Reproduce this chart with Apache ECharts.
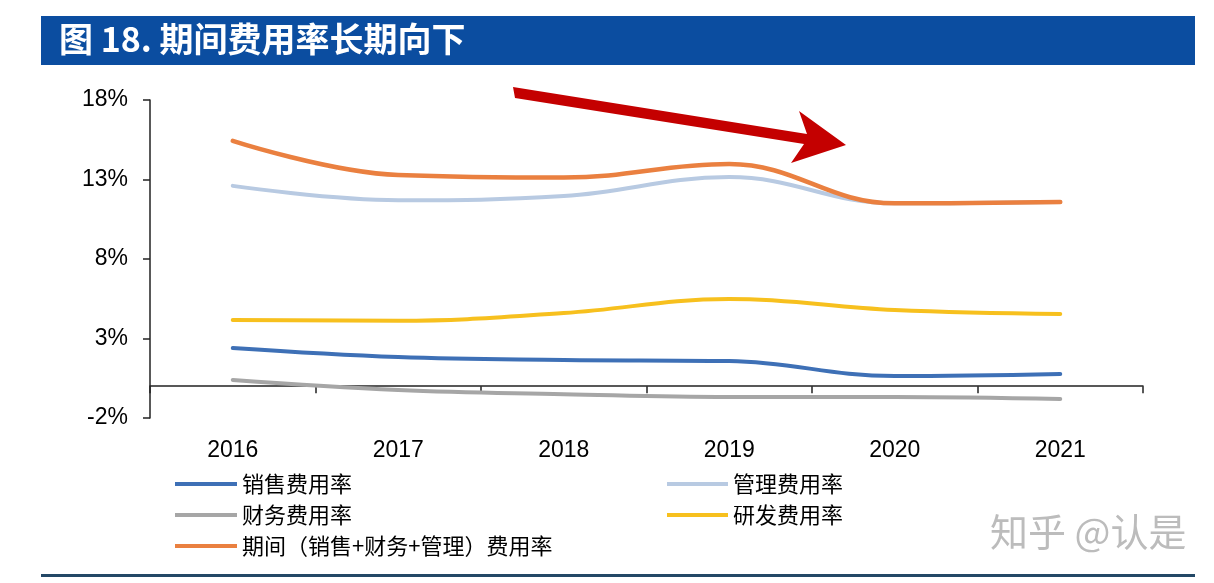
<!DOCTYPE html>
<html>
<head>
<meta charset="utf-8">
<script src="https://cdn.jsdelivr.net/npm/echarts@6/dist/echarts.min.js"></script>
<style>
html,body{margin:0;padding:0;background:#fff;}
#chart{width:1214px;height:583px;}
</style>
</head>
<body>
<div id="chart"></div>
<script>
// ---- data ----
var years = ['2016', '2017', '2018', '2019', '2020', '2021'];
var salesRate = [2.40, 1.83, 1.65, 1.58, 0.64, 0.77];
var mgmtRate = [12.60, 11.70, 11.96, 13.15, 11.50, 11.58];
var finRate = [0.39, -0.24, -0.50, -0.68, -0.68, -0.81];
var rdRate = [4.16, 4.12, 4.60, 5.48, 4.79, 4.54];
var periodRate = [15.43, 13.28, 13.12, 13.97, 11.50, 11.58];
var yTicks = [-2, 3, 8, 13, 18];

var names = {
  sales: '销售费用率',
  mgmt: '管理费用率',
  fin: '财务费用率',
  rd: '研发费用率',
  period: '期间（销售+财务+管理）费用率'
};
var titleText = '图 18. 期间费用率长期向下';
var watermark = '知乎 @认是';

var cjk = '"Noto Sans CJK SC", "Noto Sans", sans-serif';
var latin = 'Arial, "Liberation Sans", sans-serif';

function lineSeries(name, data, color, z, w) {
  return {
    name: name, type: 'line', data: data, smooth: 0.4,
    symbol: 'none', showSymbol: false, z: z,
    lineStyle: { color: color, width: w, cap: 'round' },
    itemStyle: { color: color }
  };
}

var chart = echarts.init(document.getElementById('chart'), null, { renderer: 'canvas' });
var legendText = { fontSize: 22, color: '#000', fontFamily: cjk };
var option = {
  animation: false,
  backgroundColor: '#ffffff',
  grid: { left: 150, right: 71, top: 100, bottom: 165, containLabel: false },
  xAxis: {
    type: 'category', data: years, boundaryGap: true,
    axisLine: { onZero: true, lineStyle: { color: '#222', width: 1.5 } },
    axisTick: { show: true, length: 7, lineStyle: { color: '#222', width: 1.5 } },
    axisLabel: { margin: 21, fontSize: 23, color: '#000', fontFamily: latin },
    splitLine: { show: false }
  },
  yAxis: {
    type: 'value', min: -2, max: 18,
    axisLine: { show: true, lineStyle: { color: '#222', width: 1.5 } },
    axisTick: { show: true, length: 7, customValues: yTicks, lineStyle: { color: '#222', width: 1.5 } },
    axisLabel: { customValues: yTicks, formatter: '{value}%', margin: 22, fontSize: 23, color: '#000', fontFamily: latin },
    splitLine: { show: false }
  },
  legend: [
    {
      data: [names.sales, names.fin, names.period],
      orient: 'vertical', left: 170, top: 468, icon: 'rect',
      itemWidth: 62, itemHeight: 4, itemGap: 9,
      textStyle: legendText
    },
    {
      data: [names.mgmt, names.rd],
      orient: 'vertical', left: 662, top: 468, icon: 'rect',
      itemWidth: 61, itemHeight: 4, itemGap: 9,
      textStyle: legendText
    }
  ],
  series: [
    lineSeries(names.sales, salesRate, '#3E70B6', 3, 4),
    lineSeries(names.mgmt, mgmtRate, '#B8CAE2', 3, 4),
    lineSeries(names.fin, finRate, '#A6A6A6', 3, 4),
    lineSeries(names.rd, rdRate, '#F7C01E', 3, 4),
    lineSeries(names.period, periodRate, '#EA8040', 4, 4.5)
  ],
  graphic: [
    { type: 'rect', left: 41, top: 16, shape: { width: 1154, height: 49 }, style: { fill: '#0B4DA0' }, silent: true },
    { type: 'text', left: 59, top: 22, style: { text: titleText, fill: '#fff', font: 'bold 34px ' + cjk }, silent: true },
    { type: 'rect', left: 41, top: 574, shape: { width: 1154, height: 3 }, style: { fill: '#234866' }, silent: true },
    { type: 'text', left: 990, top: 513, style: { text: watermark, fill: '#bcbcbc', font: '38px ' + cjk }, silent: true },
    {
      type: 'polygon', silent: true, z: 10,
      shape: { points: [[513, 87], [807, 134], [799, 111], [846, 145], [791, 163], [804, 144], [515, 98]] },
      style: { fill: '#C40000' }
    }
  ]
};
chart.setOption(option);
</script>
</body>
</html>
